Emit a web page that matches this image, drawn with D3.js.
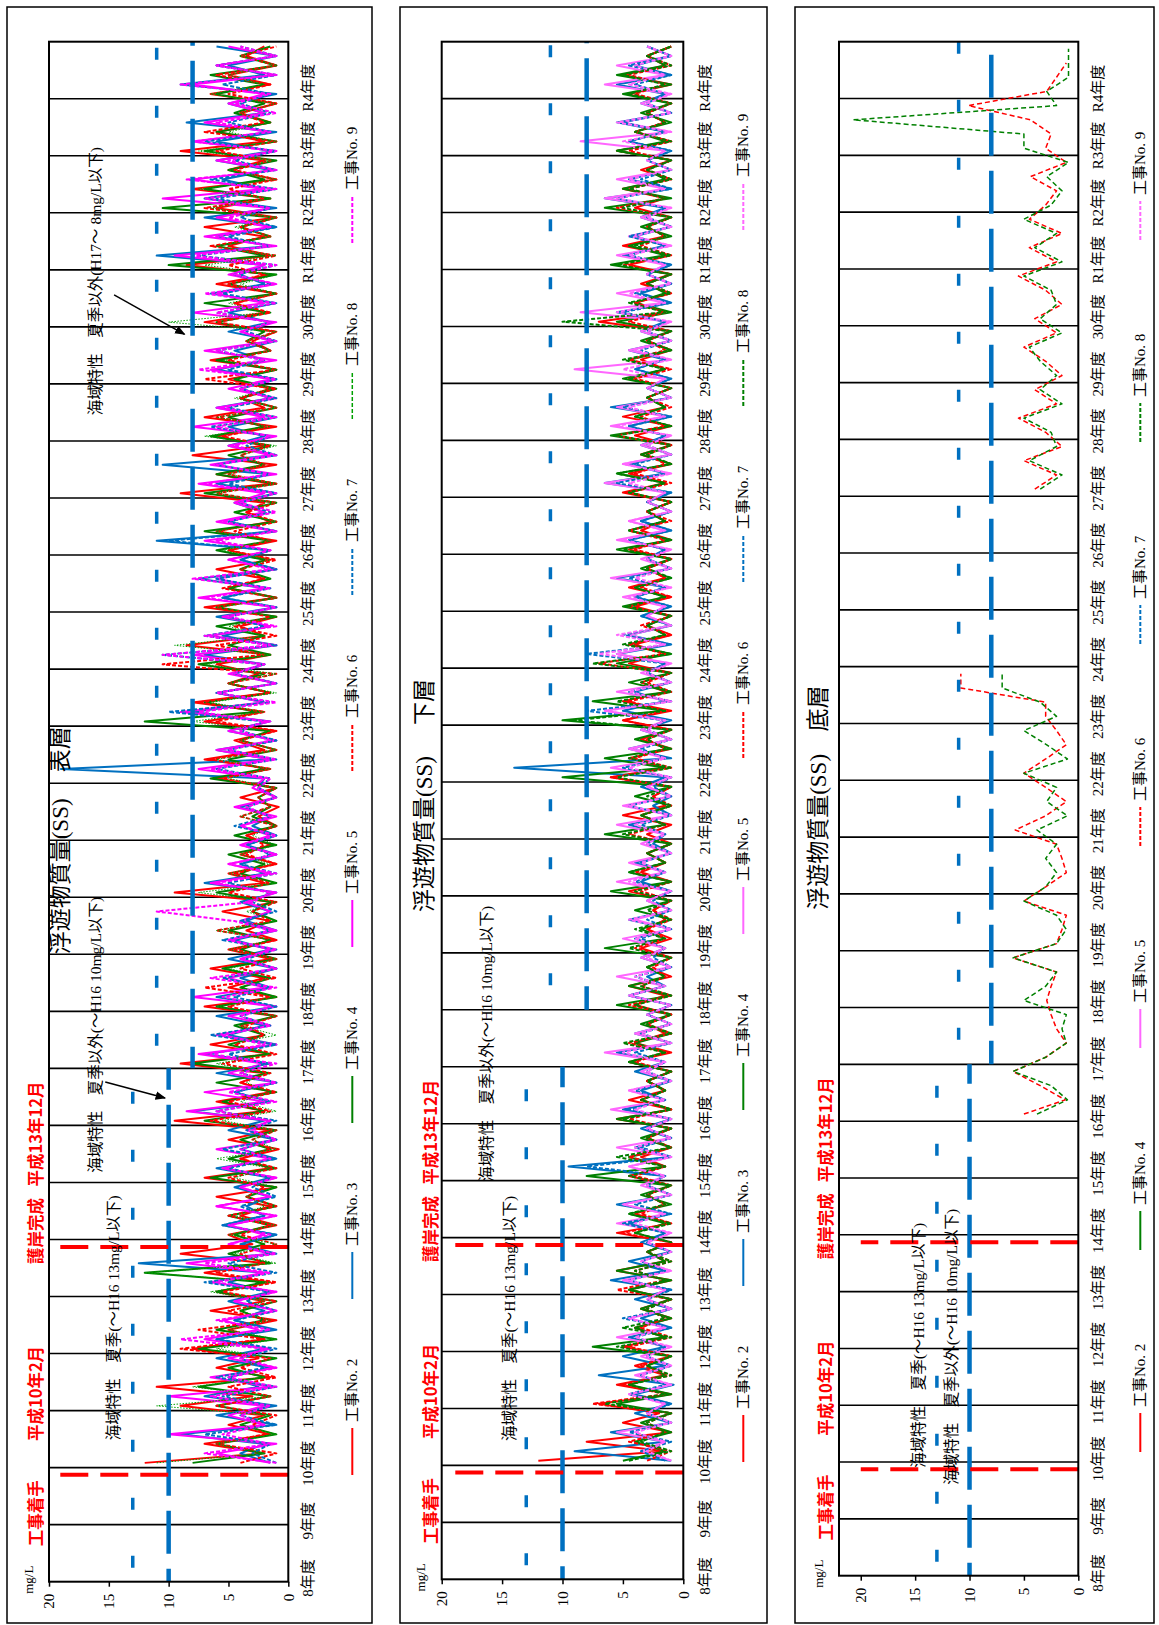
<!DOCTYPE html>
<html><head><meta charset="utf-8">
<script src="https://cdnjs.cloudflare.com/ajax/libs/d3/7.8.5/d3.min.js"></script>
<style>
body{margin:0;background:#fff;}
svg{display:block;}
text{font-family:"Liberation Serif","Noto Sans CJK JP",serif;fill:#000;}
</style></head><body>
<svg id="chart" width="1159" height="1625"></svg>
<script>
// ---------------- DATA ----------------
const yearLabels = ["8年度","9年度","10年度","11年度","12年度","13年度","14年度","15年度","16年度","17年度","18年度","19年度","20年度","21年度","22年度","23年度","24年度","25年度","26年度","27年度","28年度","29年度","30年度","R1年度","R2年度","R3年度","R4年度"];
const valueTicks = [0,5,10,15,20];
const seriesNames = ["工事No. 2","工事No. 3","工事No. 4","工事No. 5","工事No. 6","工事No. 7","工事No. 8","工事No. 9"];

// 表層 : 6 samples per year, H10 .. R4
const surfNo2 = [12,2,7,1.5,5,2, 9,3,11,1.5,6,2.5, 8,2,5,1,6.5,2, 6,1.5,7,2,9,3, 5,1,4,1.5,6,1, 7,1.5,4,0.8,5,1.5, 9.5,2,6,1.5,4,2, 9,1.5,6.5,2,4,1, 7,1,5,2,6.5,1.5, 5,1,3.5,1.5,5.5,1, 9.5,2,5,1,4,1.5, 3.5,1,2.5,0.8,4,1, 6,1.5,7,2,4.5,1, 7,2,8,1.5,5,2.5, 6,1.5,8.5,2,4,1, 7,1,5,2,6,1.5, 5,1,6,1.5,3.5,2, 9,1.5,6,1,8,2, 6,1,7,2,4,1.5, 5,1,6.5,1.5,3,1, 7,2,4.5,1,6,1.5, 8.5,1.5,5,2,7,1, 6,1.5,8,1,5,2, 9,2,6,1.5,4,1, 6.5,1.5,5,1,3.5,2];
const surfNo3 = [1.5,4,2,9,1,6, 1,7,2.5,5,1.5,6, 2,6,1,4.5,2,5, 1.5,5,2,12.5,1,4, 1,5.5,2,3.5,1.5,4.5, 1.5,6,1,4,1,5, 2,8,1.5,4.5,1,6, 1.5,7,1,5,2,6, 1,6,1.5,4,1,5, 1.5,4.5,1,3.5,1.5,4, 1,7,2,4,1,3.5, 1,3,1.5,4,1,2.5, 2,19,1.5,6,1,5, 1.5,8,2,6,1,4.5, 2,7,1,5.5,1.5,6, 1,5.5,2,7.5,1,4, 1.5,11,1,5,2,4.5, 1,6,1.5,10.5,1,5, 2,5,1,6,1.5,4, 1,6,2,4.5,1,5, 1.5,5,1,6.5,2,4, 2,11,1.5,6,1,7, 1,7,2,5.5,1.5,6, 1.5,6,1,8.5,2,5, 1,9,2,5,1,6];
const surfNo4 = [8,2,6,1,4,1.5, 6,1.5,7.5,2,5,1, 7.5,1,6,2,4,1, 6,2,12,1.5,5,2, 4.5,1.5,5,1,3.5,1, 6.5,1,5,1.5,4,1, 7,2,5.5,1,6,1.5, 8,1.5,5,2,4.5,1, 6,1,4,1.5,5.5,1, 4,1.5,5,1,3,1.5, 6,1,4,2,5,1, 4.5,1,3,1.5,2.5,1, 6.5,2,5,1,4,1.5, 12,2.5,7,1.5,5,2, 7.5,1.5,5,2,6,1, 6,1,5,1.5,4,2, 6,1.5,7,1,4.5,1, 7,1,6,2,5,1.5, 6.5,2,5,1,4,1, 4.5,1,6,1.5,3.5,2, 6,1.5,7,1,5,1, 10,2,6,1.5,4,1, 10.5,1.5,7,2,5,1, 7,1,6,1.5,4.5,2, 6,2,6.5,1,4,1.5];
const surfNo5 = [1.5,6,1,10,2,5, 2,10,1.5,6.5,1,5, 1.5,7,2.5,5.5,1,4.5, 1,6.5,2,8.5,1.5,5, 2,5,1,6,1.5,4, 1,5.5,1.5,6,1,3.5, 1.5,8.5,2,7,1,5, 2,7.5,1,6,1.5,5, 1,8,2,5,1,4, 1.5,5,1,4,1.5,3.5, 1,6.5,1.5,5,1,4, 1.5,4,1,4.5,1,3, 2,7.5,1.5,6,1,5, 1.5,9,2,6,1,5, 2,8,1,6.5,1.5,5.5, 1,7.5,2,6,1,5, 1.5,7,1,6,2,4.5, 2,7.5,1,6.5,1.5,5, 1,8,2,6,1,5, 1.5,6.5,1,7,1.5,4, 1,8,2,6,1,5, 2,9.5,1,7,1.5,6, 1.5,10.5,2,8,1,6, 1,8,1.5,7,2,5, 2,8,1,6,1,5];
const surfNo6 = [4,1,6,2,3,1, 6,1.5,5,1,4,1.5, 9,2,7.5,1.5,5,1, 5.5,1,6,2,4,1, 4,1.5,5,1,3.5,2, 5,1,4,1.5,3,1, 6.5,1.5,5,1,4,1.5, 5.5,1,4.5,2,3.5,1, 5,1.5,7,1,4,1, 4.5,1,6,1.5,3,1, 5,1.5,4.5,1,3.5,2, 3.5,1,4,1.5,2.5,1, 5.5,1.5,6.5,1,4,1, 6,2,7.5,1.5,5,1, 10.5,2,6,1,4.5,1.5, 6,1,5.5,2,4,1, 5,1.5,4.5,1,3.5,1, 6,1,5,2,4,1.5, 5.5,1.5,6,1,4,1, 7,1,5,1.5,3.5,1, 6,1.5,4.5,1,5,2, 5,1,6.5,1.5,4,1, 7,2,5,1,4.5,1.5, 6,1,7,2,4,1, 5,1.5,6,1,4,1];
const surfNo7 = [1,3,1.5,7,1,4, 1.5,5.5,1,6,2,4, 1,6,1.5,4.5,1,3.5, 1.5,7,1,5,1.5,4, 1,5.5,2,4,1,3, 1.5,5,1,5.5,1,3.5, 1,6,1.5,4.5,1,4, 2,5,1,6.5,1.5,4, 1,4.5,1.5,5.5,1,3.5, 1,5.5,1.5,4,1,3, 1.5,5,1,4,1.5,3.5, 1,4.5,1.5,3.5,1,2.5, 1.5,6,1,5,1,4, 2,10,1.5,6,1,4.5, 2,10.5,1,7,2,5, 1,5.5,1.5,6,1,4, 1.5,10,1,5,1.5,4, 1,5,1.5,6,1,3.5, 1.5,6.5,1,5,1,4, 1,5,2,6,1,3.5, 1.5,6,1,5.5,1.5,4.5, 1,7.5,1.5,5,1,4, 1.5,6,1,6.5,1,4.5, 1,7,1.5,5,1.5,4, 1.5,5.5,1,6,1,4];
const surfNo8 = [11,2,6,1,4,1.5, 11,1.5,8,2,5,1, 6,1,5,1.5,4,2, 6.5,1.5,12,1,4.5,1, 5,1,4.5,2,3.5,1, 4.5,1.5,6,1,3,1, 5.5,1,4,1.5,3.5,2, 6,1.5,5,1,4,1, 6,1,4,1.5,5,1, 5,1.5,6,1,3.5,1, 7.5,1,5,1.5,4,1, 3,1,4,1.5,2.5,1, 5,1.5,6,1,4,1.5, 8,2,6.5,1,5,1, 7,1.5,9.5,2,5,1, 6,1,5,1.5,4,1.5, 5.5,1.5,6,1,4.5,1, 6,1,5,2,4,1, 7,1.5,6,1,4.5,1.5, 4.5,1,5.5,1.5,3.5,1, 10,2,5,1,4,1, 7,1,6,1.5,4.5,1, 6.5,1.5,7.5,1,5,1.5, 7.5,1,5,1.5,4,1, 6.5,2,5,1,4,1.5];
const surfNo9 = [1,7,1.5,5.5,2,4, 1.5,6.5,1,5,1,4, 2,9,1.5,6,1,4.5, 1,6,1.5,7,1,5, 1.5,5,1,6,1.5,4, 1,5.5,1.5,4,1,3, 1.5,6,1,5,1,4, 1,6.5,2,5.5,1.5,4, 1.5,5.5,1,6.5,1,4, 1,5,1.5,4.5,11,3, 1.5,6,1,5,1,4, 1,4,1.5,3.5,1,2.5, 1.5,6.5,1,5,1.5,4, 2,7.5,1,6,1,4.5, 2,10.5,1.5,7,1,5, 1,7,1.5,8,1.5,5, 1.5,6,1,5.5,1,4, 1,7,1.5,6,1,4.5, 1.5,6,1,5.5,1.5,4, 1,7.5,2,6,1,4, 1.5,6,1,7,1,4.5, 1,8,1.5,6,1.5,5, 1.5,7,1,8.5,1,5, 1,8,1.5,6,1,4.5, 1.5,9,1,6,1,4];

// 下層 : 6 samples per year, H10 .. R4
const lowerNo2 = [12,1.5,8,1,5,2, 7,1,5.5,1.5,4,1, 5,1.5,4,1,3.5,1, 4.5,1,5.5,1.5,3,1, 5.5,1,4,1.5,3,1, 4.5,1.5,3.5,1,3,1, 5.5,1,4.5,1.5,3,1, 4.5,1,4,1.5,3,1, 4,1.5,4.5,1,3,1, 3.5,1,3,1.5,2.5,1, 4.5,1,3.5,1.5,3,1, 3,1,5,1.5,2.5,1, 6,1.5,4.5,1,3.5,1, 5,1,5,1.5,3.5,1, 4.5,1.5,4,1,3,1, 4,1,4.5,1.5,3,1, 4.5,1,3.5,1.5,3,1, 5,1.5,4.5,1,3.5,1, 4,1,5,1.5,3,1, 4.5,1.5,3.5,1,3,1, 7,1.5,4,1,3.5,1, 4.5,1,5,1.5,3,1, 4,1.5,5,1,3.5,1, 5.5,1,4,1.5,3,1, 4.5,1,5,1.5,3,1];
const lowerNo3 = [1,9,1.5,6,1,4, 1,4,0.8,7,1.5,5, 1.5,4.5,1,3.5,1,4, 1,6,1.5,4.5,1,3.5, 1.5,4.5,1,5.5,1,3, 1.5,9.5,1,4,1,3.5, 1,5,1.5,3.5,1,4, 1.5,5.5,1,4,1,3, 1,4.5,1.5,3,1,3.5, 1.5,4,1,4.5,1,3, 1,3.5,1.5,4,1,2.5, 1.5,4.5,1,2.5,1,3.5, 1.5,14,1,4.5,1,3.5, 1,5,1.5,4,1,3, 1.5,5.5,1,4.5,1,3.5, 1,4,1.5,5.5,1,3, 1.5,4.5,1,3.5,1,3, 1,6.5,1.5,4.5,1,3.5, 1.5,4.5,1,6,1,3, 1,4,1.5,4.5,1,3.5, 1.5,5.5,1,3.5,1,3, 1,5,1.5,4,1,3.5, 1.5,6.5,1,4.5,1,3, 1,4.5,1.5,5.5,1,3.5, 1.5,5.5,1,4,1,3];
const lowerNo4 = [5,1.5,4,1,3.5,1, 5.5,1,4.5,1.5,3,1, 7.5,1.5,4,1,3.5,1, 4.5,1,5.5,1.5,3,1, 4,1.5,4.5,1,3.5,1, 8,1.5,4.5,1,3.5,1, 5.5,1,3.5,1.5,3,1, 4.5,1.5,4,1,3.5,1, 5.5,1,4.5,1.5,3,1, 6.5,1.5,3.5,1,4,1, 6,1,4.5,1.5,3,1, 6.5,1.5,3.5,1,4,1, 10,1.5,6.5,1,4,1, 10,1.5,7.5,1,4.5,1, 5.5,1,4.5,1.5,3,1, 5,1.5,4,1,3.5,1, 5.5,1,4.5,1.5,3,1, 4.5,1.5,5.5,1,3.5,1, 6,1,4,1.5,3,1, 5,1.5,4.5,1,3.5,1, 5.5,1,4,1.5,3,1, 6,1.5,4.5,1,3.5,1, 6.5,1,5,1.5,3,1, 5.5,1.5,4,1,3.5,1, 5,1,5.5,1.5,3,1];
const lowerNo5 = [1,3.5,1.5,5.5,1,3, 1.5,4.5,1,4,1,3.5, 1,5.5,1.5,4.5,1,3, 1.5,5,1,3.5,1,3, 1,5.5,1.5,5,1,3.5, 1.5,4.5,1,5.5,1,3, 1,6,1.5,4.5,1,3.5, 1.5,6.5,1,4,1,3, 1,4.5,1.5,5.5,1,3.5, 1.5,5,1,4,1,3, 1,5.5,1.5,4.5,1,3.5, 1.5,5.5,1,5,1,3, 1,6,1.5,4.5,1,3.5, 1.5,6.5,1,5.5,1,3.5, 1,5.5,1.5,4.5,1,3, 1.5,5,1,6,1,3.5, 1,5.5,1.5,4.5,1,3, 1.5,6.5,1,5,1,3.5, 1,6,1.5,5.5,1,3, 1.5,9,1,4.5,1,3.5, 1,8.5,1.5,5.5,1,3, 1.5,5.5,1,4.5,1,3.5, 1,6.5,1.5,5.5,1,3, 1.5,8.5,1,5,1,3.5, 1,6.5,1.5,5.5,1,3];
const lowerNo6 = [3,1,4.5,1.5,3,1, 7.5,1.5,5,1,3.5,1, 4.5,1,3.5,1.5,3,1, 5.5,1.5,4,1,3,1, 5,1,3.5,1.5,3,1, 4,1.5,4.5,1,3,1, 4.5,1,3.5,1.5,3,1, 4,1.5,4.5,1,3,1, 4.5,1,3.5,1.5,2.5,1, 4,1.5,3,1,2.5,1, 3.5,1,4,1.5,3,1, 4.5,1.5,3.5,1,2.5,1, 6,1,4,1.5,3,1, 5,1.5,4.5,1,3,1, 7,1.5,4.5,1,3.5,1, 4.5,1,3.5,1.5,3,1, 4,1.5,4.5,1,3,1, 4.5,1,4,1.5,3,1, 5.5,1.5,3.5,1,3,1, 4,1,4.5,1.5,3,1, 4.5,1.5,4,1,3,1, 5,1,3.5,1.5,3,1, 5.5,1.5,4.5,1,3,1, 4.5,1,4,1.5,3,1, 4,1.5,4.5,1,3,1];
const lowerNo7 = [1.5,3.5,1,4.5,1,3, 1,4.5,1.5,3.5,1,3, 1.5,4,1,5,1,3, 1,4.5,1.5,3.5,1,3, 1.5,5,1,4,1,3, 1.5,8,1,3.5,1,3, 1,4.5,1.5,4,1,3, 1.5,4,1,3.5,1,3, 1,4.5,1.5,4,1,2.5, 1.5,3.5,1,3,1,2.5, 1,4,1.5,3.5,1,3, 1.5,3.5,1,4.5,1,2.5, 1,5,1.5,3.5,1,3, 1.5,8,1,4.5,1,3, 1.5,8,1,5,1,3.5, 1,4,1.5,4.5,1,3, 1.5,4.5,1,3.5,1,3, 1,5.5,1.5,4,1,3, 1.5,4.5,1,5,1,3, 1,4,1.5,3.5,1,3, 1.5,5,1,4,1,3, 1,4.5,1.5,4.5,1,3, 1.5,5.5,1,3.5,1,3, 1,4.5,1.5,5,1,3, 1.5,4,1,4.5,1,3];
const lowerNo8 = [4.5,1,3.5,1.5,3,1, 6.5,1.5,4.5,1,3,1, 5.5,1,5,1.5,3,1, 4.5,1.5,4,1,3,1, 4,1,4.5,1.5,3,1, 4.5,1.5,5.5,1,3,1, 5,1,3.5,1.5,3,1, 4.5,1.5,5,1,3,1, 4,1,3.5,1.5,3,1, 4.5,1.5,4,1,3,1, 4,1,4.5,1.5,3,1, 5,1.5,3.5,1,3,1, 5.5,1,4.5,1.5,3,1, 9,1.5,5.5,1,3.5,1, 7.5,1,5,1.5,3,1, 4.5,1.5,4,1,3,1, 5,1,4.5,1.5,3,1, 4.5,1.5,5.5,1,3,1, 5.5,1,4,1.5,3,1, 4.5,1.5,5,1,3,1, 10,1.5,4.5,1,3,1, 5.5,1,4,1.5,3,1, 5,1.5,4.5,1,3,1, 5.5,1,4,1.5,3,1, 4.5,1.5,5,1,3,1];
const lowerNo9 = [1,3,1.5,4,1,3, 1.5,4.5,1,3.5,1,3, 1,4,1.5,4.5,1,3, 1.5,4.5,1,3.5,1,3, 1,4,1.5,5,1,3, 1.5,4.5,1,4,1,3, 1,4,1.5,4.5,1,3, 1.5,5,1,3.5,1,3, 1,4.5,1.5,4,1,3, 1.5,4,1,4.5,1,3, 1,4.5,1.5,3.5,1,3, 1.5,4,1,4.5,1,3, 1,4.5,1.5,4,1,3, 1.5,6.5,1,4.5,1,3, 1,7,1.5,5.5,1,3, 1.5,4.5,1,4,1,3, 1,5,1.5,4.5,1,3, 1.5,4.5,1,5,1,3, 1,5.5,1.5,4.5,1,3, 1.5,5,1,4,1,3, 1,5.5,1.5,4.5,1,3, 1.5,4.5,1,4,1,3, 1,5.5,1.5,4.5,1,3, 1.5,5,1,5.5,1,3, 1,4.5,1.5,4,1,3];

// 底層 : quarterly values, two observation periods
const bedNo6A = [5,1.2,3.5,6, 3,1.1,2,2.5, 2.9,2.5,2,6, 2,1.5,1.1,5, 3,1.1,1.5,2, 5.8,3,1.1,3, 5,3,1.1,2, 3,3,10.8,10.8];
const bedNo8A = [3.8,1,2.5,6, 3,1.1,1.5,1.1, 5,3,2,6, 2,1.1,2,5, 3,2,3,2, 3.8,1,2.9,2, 5,1,2.9,5, 2,3.5,7,7];
const bedNo6B = [4,2,5,1.5, 3,5.5,2,4, 1.5,3,5,2, 4,1.5,3,5.5, 2,4.5,1.5,4.5, 3,2,4.4,1.1, 3,2.5,4.4,10.1, 2.9,2,1.1,null];
const bedNo8B = [3.5,1.5,4.5,2, 2.5,5,1.5,3.5, 2,3.5,4.5,1.5, 3.5,2,2.5,5, 1.5,4,2,5, 2.5,1.5,2.9,0.9, 5,5,20.7,2, 2.9,0.9,0.9,0.9];

// reference levels (海域特性) and construction events
const refSummerBefore = 13, refOtherBefore = 10, refSummerAfter = 11, refOtherAfter = 8;
const eventTimes = [1.875, 5.87];

// ---------------- STYLES ----------------
const C = {red:"#FF0000", blue:"#0070C0", green:"#008000", mag:"#FF00FF", pink:"#FF66FF"};
const st1 = [
  {c:C.red,w:2},{c:C.blue,w:2},{c:C.green,w:2},{c:C.mag,w:2},
  {c:C.red,w:2,d:"4 2"},{c:C.blue,w:2,d:"4 2"},{c:"#00A000",w:1,d:"1.5 1.5"},{c:C.mag,w:2,d:"4 2"}];
const st2 = [
  {c:C.red,w:2},{c:C.blue,w:2},{c:C.green,w:2},{c:C.pink,w:2},
  {c:C.red,w:2,d:"4 2"},{c:C.blue,w:2,d:"4 2"},{c:C.green,w:2,d:"4 2"},{c:C.pink,w:2,d:"4 2"}];

const svg = d3.select("#chart");
const defs = svg.append("defs");
defs.append("marker").attr("id","arr").attr("viewBox","0 0 10 10").attr("refX",9).attr("refY",5)
  .attr("markerWidth",7).attr("markerHeight",7).attr("orient","auto")
  .append("path").attr("d","M0,1 L10,5 L0,9 z").attr("fill","#000");

function drawPanel(p){
  const L = p.bottom - p.top, W = p.right - p.left;
  svg.append("rect").attr("x",p.bx0).attr("y",7).attr("width",p.bx1-p.bx0).attr("height",1616)
    .attr("fill","none").attr("stroke","#000").attr("stroke-width",1.5);
  const g = svg.append("g").attr("transform",`translate(${p.left},${p.bottom}) rotate(-90)`);
  const x = d3.scaleLinear().domain([0,27]).range([0,L]);
  const y = d3.scaleLinear().domain([0,p.vmax]).range([W,0]);

  // year grid
  g.append("g").selectAll("line").data(d3.range(1,27)).join("line")
    .attr("x1",d=>x(d)).attr("x2",d=>x(d)).attr("y1",0).attr("y2",W)
    .attr("stroke","#000").attr("stroke-width",1.6);

  // data series
  const line = d3.line().defined(d=>d.v!=null).x(d=>x(d.t)).y(d=>y(d.v));
  p.series.forEach(s=>{
    const n = s.perYear;
    const pts = s.values.map((v,i)=>({t:s.t0 + (i+0.5)/n, v}));
    g.append("path").attr("d",line(pts)).attr("fill","none")
      .attr("stroke",s.st.c).attr("stroke-width",s.st.w)
      .attr("stroke-dasharray",s.st.d||null).attr("stroke-linejoin","round");
  });

  // reference lines
  const refs = [
    {v:refSummerBefore,t0:0,t1:p.split,thick:false},
    {v:refOtherBefore,t0:0,t1:p.split,thick:true},
    {v:refSummerAfter,t0:p.split2,t1:27,thick:false},
    {v:refOtherAfter,t0:p.split2,t1:27,thick:true}];
  refs.forEach(r=>{
    g.append("line").attr("x1",x(r.t0)).attr("x2",x(r.t1)).attr("y1",y(r.v)).attr("y2",y(r.v))
      .attr("stroke",C.blue).attr("stroke-width",r.thick?4.5:3.5)
      .attr("stroke-dasharray",r.thick?"43 15":"12 46")
      .attr("stroke-dashoffset",(r.thick?30:-14) + x(r.t0));
  });

  // construction event lines
  eventTimes.forEach(t=>{
    g.append("line").attr("x1",x(t)).attr("x2",x(t)).attr("y1",y(0)).attr("y2",y(p.evMax))
      .attr("stroke",C.red).attr("stroke-width",4).attr("stroke-dasharray","28 12");
  });

  // plot border
  g.append("rect").attr("x",0).attr("y",0).attr("width",L).attr("height",W)
    .attr("fill","none").attr("stroke","#000").attr("stroke-width",2);

  // value axis
  const ax = g.append("g").call(d3.axisLeft(y).tickValues(valueTicks).tickSize(5).tickPadding(7));
  ax.select(".domain").remove();
  ax.selectAll("line").attr("stroke","#000").attr("stroke-width",1.5);
  ax.selectAll("text").attr("font-size",15).attr("font-family",null);

  g.append("text").attr("x",2).attr("y",-21).attr("text-anchor","middle").attr("dominant-baseline","central")
    .attr("font-size",13).text("mg/L");

  // year labels
  const step = x(1)*1.005;
  g.append("g").selectAll("text").data(yearLabels).join("text")
    .attr("x",(d,i)=>p.ylOff + i*step).attr("y",W + p.ylDy)
    .attr("text-anchor","middle").attr("dominant-baseline","central").attr("font-size",15).text(d=>d);

  // legend
  const lg = g.append("g");
  p.legend.forEach((e,i)=>{
    const lx = p.legX0 + i*p.legStep, ly = W + p.legDy;
    lg.append("line").attr("x1",lx).attr("x2",lx+p.legLine).attr("y1",ly).attr("y2",ly)
      .attr("stroke",e.st.c).attr("stroke-width",Math.max(e.st.w,1.5)).attr("stroke-dasharray",e.st.d?"4 2":null);
    lg.append("text").attr("x",lx+p.legLine+6).attr("y",ly).attr("dominant-baseline","central")
      .attr("font-size",15).text(e.name);
  });

  // red event labels
  p.evLabels.forEach(e=>{
    g.append("text").attr("x",x(e.t)).attr("y",p.evLabelY).attr("text-anchor","middle")
      .attr("dominant-baseline","central").attr("font-size",16.5).attr("font-weight","bold")
      .style("font-family","'Noto Sans CJK JP',sans-serif").style("fill",C.red).text(e.text);
  });

  // title
  g.append("text").attr("x",x(p.title.t)).attr("y",p.title.y).attr("dominant-baseline","central")
    .attr("font-size",23).text("浮遊物質量(SS)");
  g.append("text").attr("x",x(p.title.t2)).attr("y",p.title.y).attr("dominant-baseline","central")
    .attr("font-size",23).text(p.title.layer);

  // annotations
  p.notes.forEach(n=>{
    g.append("text").attr("x",x(n.t)).attr("y",y(n.v)).attr("dominant-baseline","central")
      .attr("font-size",15.5).text(n.text);
  });
  (p.arrows||[]).forEach(a=>{
    g.append("line").attr("x1",x(a.t0)).attr("y1",y(a.v0)).attr("x2",x(a.t1)).attr("y2",y(a.v1))
      .attr("stroke","#000").attr("stroke-width",1.5).attr("marker-end","url(#arr)");
  });
}

const note1 = "海域特性　夏季(～H16 13mg/L以下)";
const note2 = "海域特性　夏季以外(～H16 10mg/L以下)";
const note3 = "海域特性　夏季以外(H17～ 8mg/L以下)";
const evLabels = [{t:1.2,text:"工事着手"},{t:3.3,text:"平成10年2月"},{t:6.15,text:"護岸完成"},{t:7.85,text:"平成13年12月"}];

const surf = [surfNo2,surfNo3,surfNo4,surfNo5,surfNo6,surfNo7,surfNo8,surfNo9];
const lower = [lowerNo2,lowerNo3,lowerNo4,lowerNo5,lowerNo6,lowerNo7,lowerNo8,lowerNo9];

drawPanel({
  left:49, right:288.3, top:41.7, bottom:1581.7, vmax:20, bx0:7, bx1:372, split:9, split2:9, evMax:19.4,
  series: surf.map((v,i)=>({values:v,t0:2,perYear:6,st:st1[i]})),
  legend: seriesNames.map((n,i)=>({name:n,st:st1[i]})),
  legX0:106.7, legStep:176, legLine:47, legDy:64, ylOff:3.7, ylDy:20, evLabelY:-14,
  evLabels,
  title:{t:11.0, t2:14.19, y:11, layer:"表層"},
  notes:[{t:2.48,v:14.6,text:note1},{t:7.17,v:16.15,text:note2},{t:20.45,v:16.15,text:note3}],
  arrows:[{t0:8.76,v0:15.3,t1:8.48,v1:10.3},{t0:22.56,v0:14.56,t1:21.87,v1:8.67}]
});
drawPanel({
  left:441.7, right:683.3, top:41.7, bottom:1579.3, vmax:20, bx0:400, bx1:767, split:9, split2:10, evMax:19.2,
  series: lower.map((v,i)=>({values:v,t0:2,perYear:6,st:st2[i]})),
  legend: seriesNames.map((n,i)=>({name:n,st:st2[i]})),
  legX0:117.3, legStep:176, legLine:47, legDy:60, ylOff:3.3, ylDy:22, evLabelY:-12,
  evLabels,
  title:{t:11.72, t2:15.0, y:-17, layer:"下層"},
  notes:[{t:2.43,v:14.35,text:note1},{t:6.98,v:16.3,text:note2}]
});
const st3Legend = [st2[0],st2[2],st2[3],st2[4],st2[5],st2[6],st2[7]];
const names3 = [seriesNames[0],seriesNames[2],seriesNames[3],seriesNames[4],seriesNames[5],seriesNames[6],seriesNames[7]];
const st3red = {c:C.red,w:1.5,d:"5 3"}, st3green = {c:C.green,w:1.5,d:"5 3"};
drawPanel({
  left:839, right:1078.3, top:41.7, bottom:1575.7, vmax:22, bx0:795, bx1:1154, split:9, split2:9, evMax:20,
  series:[{values:bedNo6A,t0:8,perYear:4,st:st3red},{values:bedNo8A,t0:8,perYear:4,st:st3green},
          {values:bedNo6B,t0:19,perYear:4,st:st3red},{values:bedNo8B,t0:19,perYear:4,st:st3green}],
  legend: names3.map((n,i)=>({name:n,st:st3Legend[i]})),
  legX0:123.7, legStep:202, legLine:39, legDy:62, ylOff:2.7, ylDy:20, evLabelY:-14,
  evLabels,
  title:{t:11.72, t2:14.86, y:-21, layer:"底層"},
  notes:[{t:1.9,v:14.7,text:note1},{t:1.6,v:11.7,text:note2}]
});
</script>
</body></html>
